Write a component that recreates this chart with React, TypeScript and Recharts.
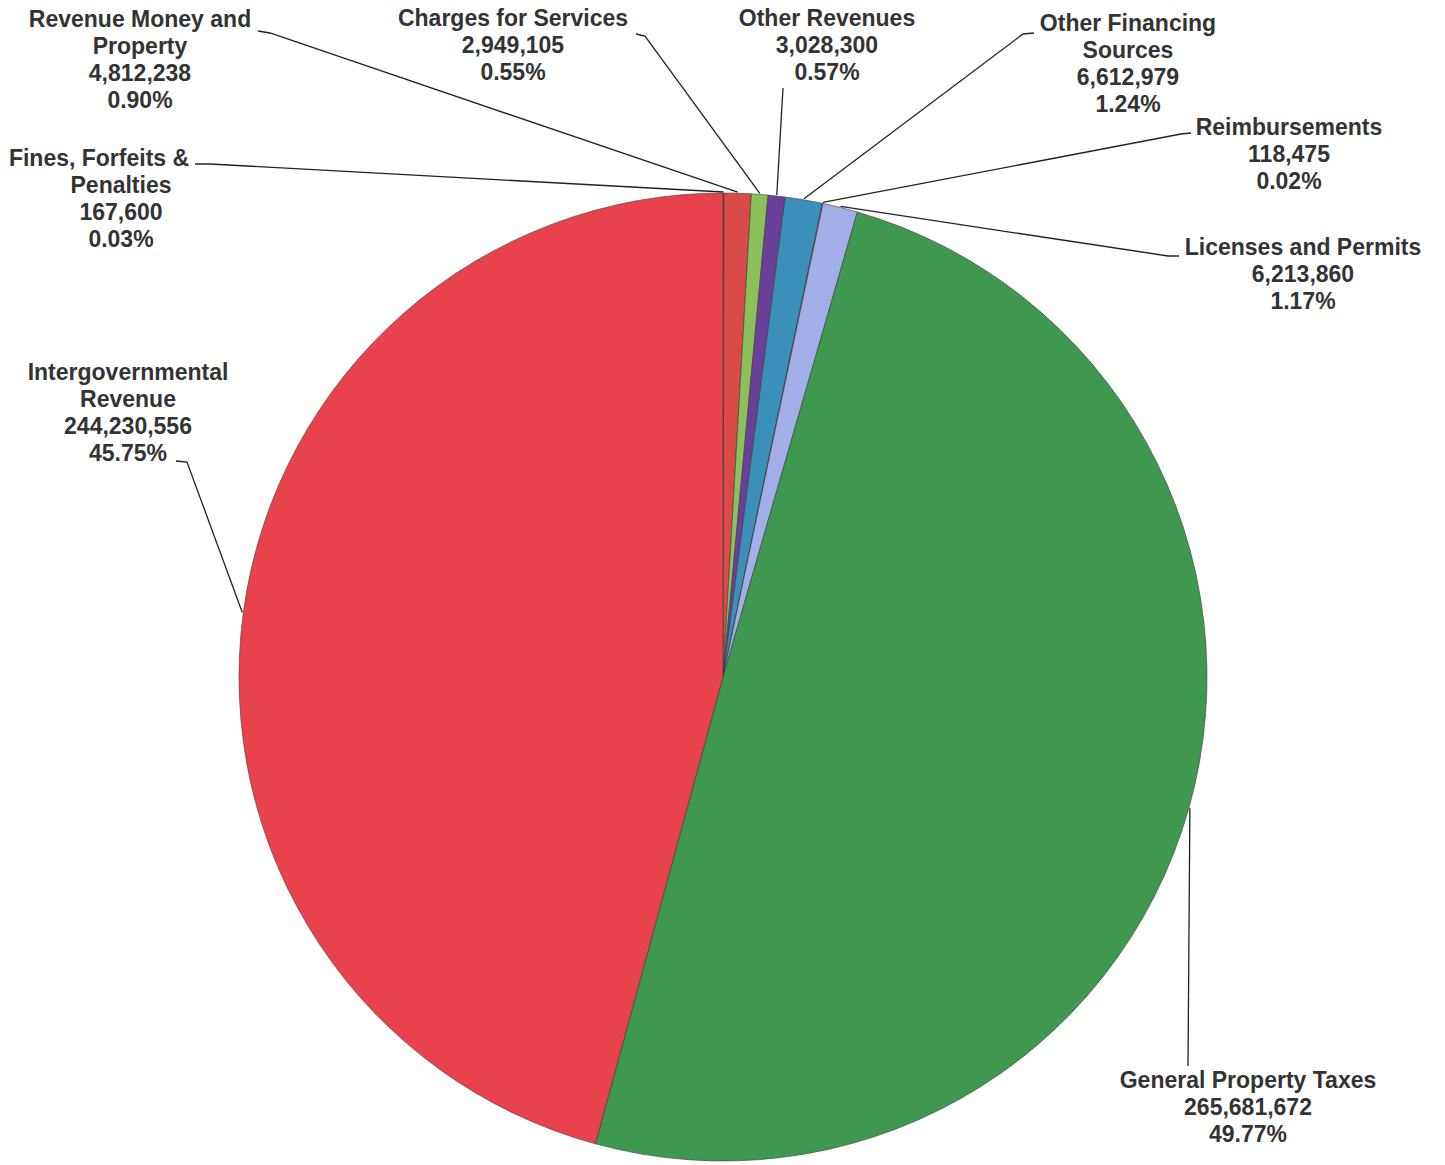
import React from 'react';
import { PieChart, Pie, Cell } from 'recharts';

const categories = [
  'Fines, Forfeits & Penalties',
  'Revenue Money and Property',
  'Charges for Services',
  'Other Revenues',
  'Other Financing Sources',
  'Reimbursements',
  'Licenses and Permits',
  'General Property Taxes',
  'Intergovernmental Revenue',
];

const amounts = [167600, 4812238, 2949105, 3028300, 6612979, 118475, 6213860, 265681672, 244230556];

const percentLabels = ['0.03%', '0.90%', '0.55%', '0.57%', '1.24%', '0.02%', '1.17%', '49.77%', '45.75%'];

const nameLines = [
  ['Fines, Forfeits &', 'Penalties'],
  ['Revenue Money and', 'Property'],
  ['Charges for Services'],
  ['Other Revenues'],
  ['Other Financing', 'Sources'],
  ['Reimbursements'],
  ['Licenses and Permits'],
  ['General Property Taxes'],
  ['Intergovernmental', 'Revenue'],
];

const colors = ['#9a2f3e', '#d94a48', '#8cc05a', '#6a3f98', '#3a90b8', '#5a6aa8', '#a2aee8', '#3e9850', '#e8424c'];

// label layout: text center x, first baseline y, per-line override for first line x, leader points near text
const labelLayout = [
  { x: 121, y: 166, firstX: 99, leader: [[195, 164], [210, 164]] },
  { x: 140, y: 27, leader: [[258, 31], [270, 33]] },
  { x: 513, y: 26, leader: [[636, 34], [645, 36]] },
  { x: 827, y: 26, leader: [[783, 88]] },
  { x: 1128, y: 31, leader: [[1034, 33], [1023, 34]] },
  { x: 1289, y: 135, leader: [[1191, 133], [1181, 134]] },
  { x: 1303, y: 255, leader: [[1179, 256], [1168, 256]] },
  { x: 1248, y: 1088, leader: [[1188, 1066]] },
  { x: 128, y: 380, leader: [[176, 461], [187, 462]] },
];

const data = categories.map((name, i) => ({ name, value: amounts[i] }));

const fmt = (v: number) => v.toLocaleString('en-US');

const RADIAN = Math.PI / 180;

const renderLabel = (props: any) => {
  const { cx, cy, midAngle, outerRadius, index } = props;
  const lay = labelLayout[index];
  const r = outerRadius + 1;
  const ax = cx + r * Math.cos(-midAngle * RADIAN);
  const ay = cy + r * Math.sin(-midAngle * RADIAN);
  const pts = [...lay.leader].reverse().map((p) => p.join(',')).join(' ');
  const lines = [...nameLines[index], fmt(amounts[index]), percentLabels[index]];
  return (
    <g key={`lbl-${index}`}>
      <polyline points={`${ax},${ay} ${pts}`} fill="none" stroke="#222" strokeWidth={1.3} />
      <text
        textAnchor="middle"
        fontFamily="'Liberation Sans', Arial, sans-serif"
        fontWeight="bold"
        fontSize={23}
        fill="#333"
      >
        {lines.map((ln, j) => (
          <tspan key={j} x={j === 0 && lay.firstX !== undefined ? lay.firstX : lay.x} y={lay.y + j * 27}>
            {ln}
          </tspan>
        ))}
      </text>
    </g>
  );
};

export default function App() {
  return (
    <div style={{ position: 'absolute', left: 0, top: 0, background: '#fff' }}>
      <PieChart width={1445} height={1165} margin={{ top: 0, right: 0, bottom: 0, left: 0 }}>
        <Pie
          data={data}
          dataKey="value"
          nameKey="name"
          cx={723}
          cy={677}
          outerRadius={484}
          startAngle={90}
          endAngle={-270}
          stroke="#3a3a3a"
          strokeWidth={0.6}
          label={renderLabel}
          labelLine={false}
          isAnimationActive={false}
        >
          {data.map((d, i) => (
            <Cell key={d.name} fill={colors[i]} />
          ))}
        </Pie>
      </PieChart>
    </div>
  );
}
